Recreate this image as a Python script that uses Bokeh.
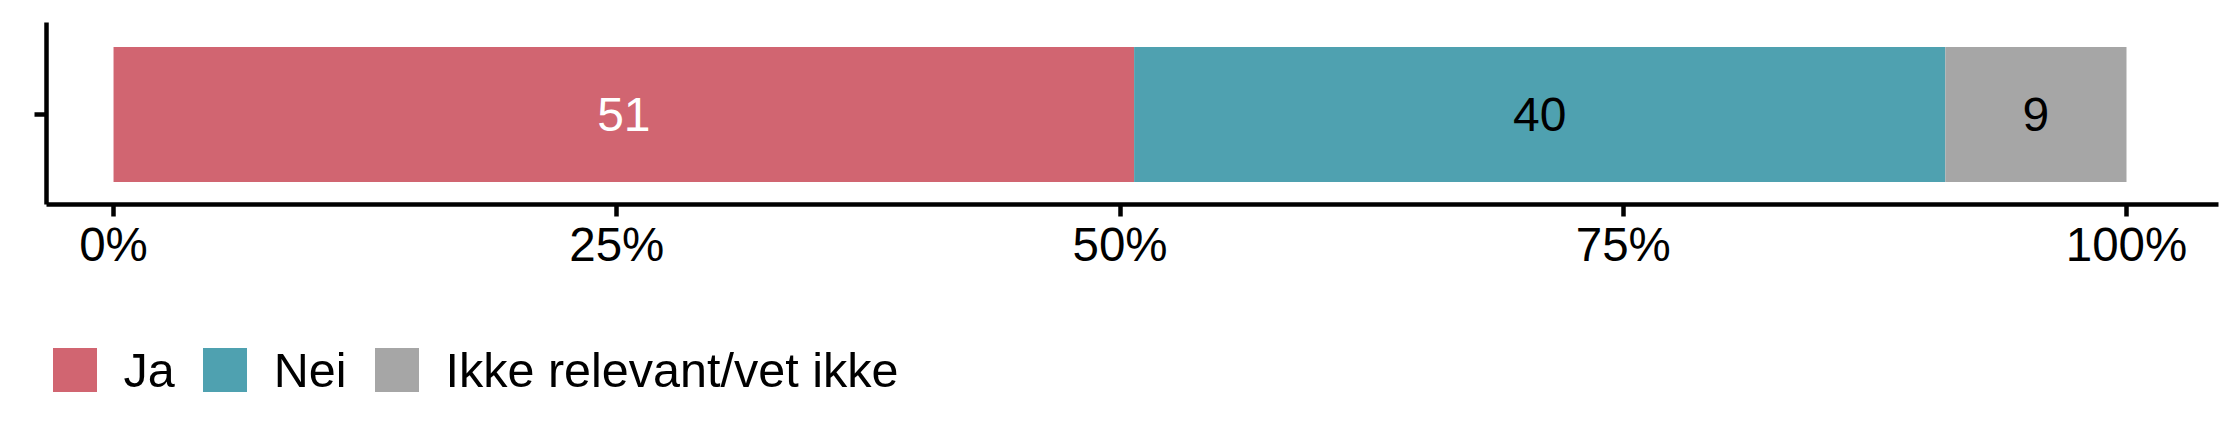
from bokeh.plotting import figure
from bokeh.models import (ColumnDataSource, Range1d, FixedTicker, Legend, LegendItem)
from bokeh.layouts import column
from bokeh.embed import file_html
from bokeh.resources import INLINE
from bokeh.core.properties import value

# ---- data ----
categories = ["Ja", "Nei", "Ikke relevant/vet ikke"]
shares = [50.7, 40.3, 9.0]
colors = ["#D16571", "#4FA1B0", "#A6A6A6"]
label_colors = ["white", "black", "black"]
x_ticks = [0, 25, 50, 75, 100]
x_tick_labels = ["0%", "25%", "50%", "75%", "100%"]

lefts, rights, mids = [], [], []
acc = 0.0
for s in shares:
    lefts.append(acc)
    rights.append(acc + s)
    mids.append(acc + s / 2)
    acc += s

src = ColumnDataSource(dict(
    cat=categories, left=lefts, right=rights, mid=mids, y=[1] * len(shares),
    color=colors, txt=[str(int(round(s))) for s in shares], tcol=label_colors,
))

FONT = "Liberation Sans"
W = 2224
H_TOP = 290
H_LEG = 138

p = figure(width=W, height=H_TOP, output_backend="svg", toolbar_location=None,
           x_range=Range1d(-3.33, 104.57), y_range=Range1d(0.4, 1.6133),
           min_border_left=46, min_border_right=6, min_border_top=22,
           min_border_bottom=H_TOP - 204)
p.outline_line_color = None
p.xgrid.visible = False
p.ygrid.visible = False
p.background_fill_color = "white"
p.border_fill_color = "white"

r = p.hbar(y="y", left="left", right="right", height=0.9, fill_color="color",
           line_color=None, source=src)
p.text(x="mid", y="y", text="txt", text_color="tcol", text_align="center",
       text_baseline="middle", text_font=value(FONT), text_font_size="48px",
       source=src)

# axes
p.xaxis.ticker = FixedTicker(ticks=x_ticks)
p.xaxis.major_label_overrides = {t: l for t, l in zip(x_ticks, x_tick_labels)}
p.xaxis.major_label_text_font = FONT
p.xaxis.major_label_text_font_size = "47.5px"
p.xaxis.major_label_text_color = "black"
p.xaxis.major_label_standoff = 1
p.xaxis.minor_tick_line_color = None
for ax in (p.xaxis, p.yaxis):
    ax.axis_line_width = 4.5
    ax.axis_line_color = "black"
    ax.major_tick_line_width = 4.5
    ax.major_tick_line_color = "black"
    ax.major_tick_out = 12
    ax.major_tick_in = 0
p.yaxis.ticker = FixedTicker(ticks=[1])
p.yaxis.major_label_overrides = {1: ""}
p.yaxis.minor_tick_line_color = None

# ---- legend panel (separate figure below the chart) ----
q = figure(width=W, height=H_LEG, output_backend="svg", toolbar_location=None,
           x_range=Range1d(1000, 1001), y_range=Range1d(1000, 1001),
           min_border_left=0, min_border_right=0, min_border_top=0,
           min_border_bottom=0)
q.axis.visible = False
q.grid.visible = False
q.outline_line_color = None
q.background_fill_color = "white"
q.border_fill_color = "white"
rq = q.hbar(y="y", left="left", right="right", height=0.9, fill_color="color",
            line_color=None, source=src)

items = [LegendItem(label=c, renderers=[rq], index=i) for i, c in enumerate(categories)]
legend = Legend(items=items, orientation="horizontal", location=(0.5, 30.5),
                glyph_width=55, glyph_height=55, label_standoff=22, spacing=22,
                padding=0, margin=0, border_line_color=None,
                background_fill_alpha=0, label_text_font=FONT,
                label_text_font_size="48.5px", label_text_color="black")
q.add_layout(legend, "center")

layout = column(p, q, spacing=0)
open("out.html", "w").write(file_html(layout, INLINE))
